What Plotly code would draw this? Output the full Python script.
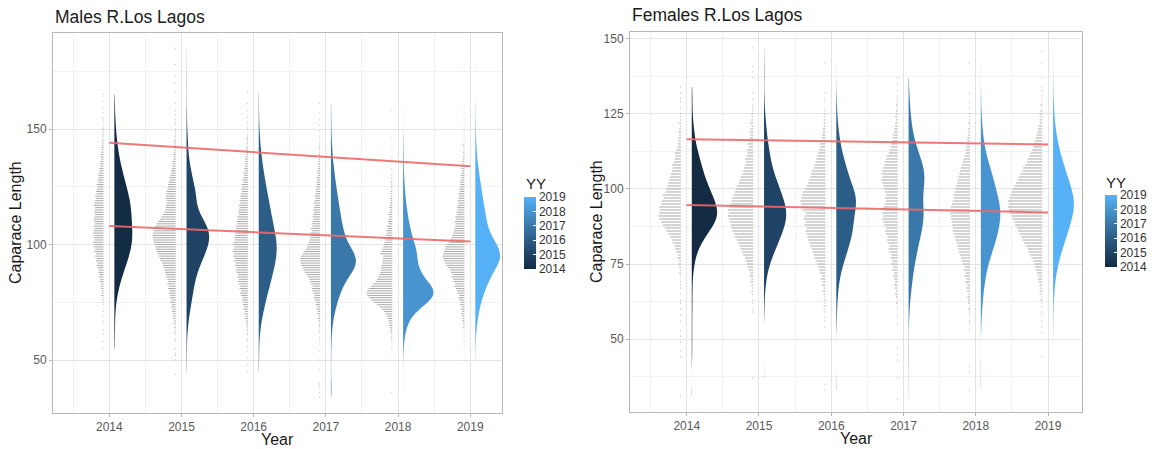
import numpy as np
import plotly.graph_objects as go
from plotly.colors import sample_colorscale

years = [2014, 2015, 2016, 2017, 2018, 2019]

# Carapace length frequencies (individuals per 1 mm class).
# Each list starts at the length given in the matching *_start list.
males_start = [55, 44, 45, 34, 36, 50]
males_2014 = [1, 0, 0, 1, 0, 0, 1, 0, 1, 0,
              0, 1, 1, 0, 1, 0, 1, 1, 0, 1,
              1, 2, 1, 3, 2, 2, 3, 4, 3, 5,
              4, 6, 5, 7, 6, 8, 9, 8, 10, 9,
              11, 10, 12, 11, 13, 12, 14, 12, 13, 12,
              14, 13, 12, 13, 11, 12, 13, 12, 11, 12,
              12, 11, 13, 12, 11, 10, 11, 9, 10, 9,
              8, 9, 7, 8, 6, 7, 6, 5, 6, 4,
              5, 4, 3, 4, 3, 3, 2, 3, 2, 2,
              2, 1, 2, 1, 1, 2, 1, 0, 1, 1,
              1, 0, 1, 0, 1, 0, 0, 1, 0, 0, 1]
males_2015 = [1, 0, 0, 0, 0, 0, 1, 0, 1, 1,
              0, 1, 0, 0, 1, 1, 0, 1, 2, 1,
              2, 1, 3, 2, 3, 4, 3, 5, 4, 6,
              5, 7, 6, 8, 7, 9, 8, 10, 9, 11,
              10, 11, 12, 13, 14, 15, 16, 17, 18, 20,
              21, 22, 24, 25, 26, 27, 28, 29, 30, 30,
              31, 30, 29, 28, 27, 25, 23, 21, 19, 17,
              15, 14, 13, 13, 12, 12, 13, 13, 12, 12,
              11, 10, 10, 9, 8, 8, 7, 6, 6, 5,
              5, 4, 4, 3, 3, 3, 2, 2, 2, 2,
              2, 2, 1, 2, 1, 1, 1, 0, 1, 1,
              1, 0, 1, 0, 1, 0, 0, 1, 0, 0,
              0, 0, 1, 0, 0, 0, 1, 0, 0, 1,
              0, 0, 0, 0, 1, 0, 0, 0, 0, 0, 0, 1]
males_2016 = [1, 0, 0, 1, 0, 0, 1, 0, 0, 1,
              0, 1, 0, 1, 1, 0, 1, 1, 2, 1,
              2, 3, 2, 4, 3, 5, 4, 6, 5, 7,
              6, 8, 7, 9, 10, 9, 11, 10, 12, 13,
              12, 14, 13, 15, 16, 15, 17, 16, 18, 17,
              19, 18, 20, 19, 18, 20, 19, 17, 18, 17,
              16, 17, 15, 16, 14, 15, 13, 14, 12, 13,
              12, 11, 12, 10, 11, 9, 10, 9, 8, 9,
              7, 8, 6, 7, 6, 5, 6, 4, 5, 4,
              4, 3, 4, 3, 2, 3, 2, 2, 1, 2,
              1, 2, 1, 1, 0, 1, 1, 0, 1, 0,
              1, 0, 0, 1, 0, 0, 1, 0, 0, 0, 0, 1]
males_2017 = [1, 0, 1, 0, 1, 1, 1, 0, 0, 0,
              0, 0, 1, 0, 0, 0, 1, 0, 0, 0,
              1, 0, 0, 1, 0, 1, 1, 0, 1, 1,
              1, 2, 1, 2, 3, 2, 4, 3, 5, 4,
              6, 5, 7, 8, 7, 9, 10, 11, 10, 12,
              13, 14, 16, 18, 20, 22, 23, 25, 26, 26,
              26, 25, 23, 21, 19, 17, 16, 15, 14, 13,
              12, 13, 11, 12, 10, 11, 10, 9, 10, 9,
              8, 9, 8, 7, 8, 7, 6, 7, 6, 5,
              6, 5, 4, 5, 4, 4, 3, 4, 3, 3,
              2, 3, 2, 2, 1, 2, 1, 1, 2, 1,
              1, 0, 1, 1, 0, 1, 0, 0, 1, 0,
              1, 0, 0, 1, 0, 0, 0, 1]
males_2018 = [1, 0, 0, 0, 0, 0, 0, 0, 0, 0,
              0, 0, 0, 0, 1, 0, 0, 0, 0, 1,
              1, 0, 1, 1, 2, 1, 2, 3, 3, 4,
              4, 5, 6, 7, 9, 11, 14, 17, 20, 24,
              28, 31, 33, 34, 33, 31, 28, 25, 22, 20,
              18, 17, 16, 15, 15, 14, 13, 13, 12, 12,
              16, 14, 13, 12, 11, 10, 9, 10, 8, 7,
              8, 6, 7, 5, 6, 5, 4, 5, 4, 3,
              4, 3, 3, 2, 3, 2, 2, 2, 1, 2,
              1, 2, 1, 1, 1, 0, 1, 1, 0, 1,
              0, 1, 1, 0, 0, 1, 0, 1, 0, 0,
              1, 0, 0, 0, 0, 0, 0, 0, 0, 0, 0, 0, 1]
males_2019 = [1, 0, 0, 0, 0, 0, 1, 0, 1, 0,
              1, 1, 0, 1, 2, 1, 2, 3, 2, 3,
              4, 3, 5, 4, 6, 5, 7, 8, 7, 9,
              10, 11, 13, 12, 14, 15, 17, 16, 18, 19,
              22, 24, 26, 27, 28, 29, 28, 27, 26, 25,
              23, 21, 19, 17, 16, 15, 14, 13, 12, 12,
              13, 11, 12, 10, 11, 9, 10, 9, 8, 9,
              8, 7, 8, 6, 7, 6, 5, 6, 5, 4,
              5, 4, 3, 4, 3, 2, 3, 2, 2, 1,
              2, 1, 1, 2, 1, 0, 1, 1, 0, 1,
              0, 1, 0, 0, 1, 0, 0, 1, 0, 0,
              1, 0, 0, 0, 0, 0, 0, 0, 0, 0,
              0, 0, 0, 0, 0, 0, 0, 0, 1]

females_start = [31, 37, 33, 30, 33, 44]
females_2014 = [1, 0, 0, 0, 0, 0, 0, 0, 0, 0,
                0, 0, 0, 1, 0, 1, 0, 0, 1, 0,
                1, 0, 1, 0, 0, 1, 0, 1, 0, 1,
                0, 1, 1, 0, 1, 0, 1, 1, 1, 0,
                1, 2, 1, 2, 3, 2, 4, 3, 5, 6,
                7, 9, 10, 12, 14, 16, 18, 20, 22, 24,
                25, 24, 23, 24, 22, 21, 19, 20, 17, 16,
                15, 14, 13, 12, 11, 10, 9, 10, 8, 7,
                6, 7, 5, 4, 4, 3, 3, 2, 3, 2,
                1, 2, 1, 1, 1, 0, 1, 0, 1, 1,
                0, 1, 0, 1]
females_2015 = [1, 0, 0, 0, 0, 0, 0, 0, 0, 0,
                0, 0, 0, 0, 0, 0, 0, 0, 0, 0,
                0, 0, 1, 1, 0, 1, 1, 0, 1, 2,
                1, 2, 3, 2, 4, 3, 5, 6, 7, 8,
                9, 11, 12, 14, 15, 17, 18, 20, 21, 23,
                24, 25, 26, 27, 28, 27, 28, 26, 25, 24,
                23, 22, 20, 19, 18, 16, 15, 14, 12, 11,
                10, 9, 8, 9, 7, 6, 7, 5, 6, 4,
                4, 3, 4, 3, 2, 3, 2, 1, 2, 1,
                1, 1, 0, 1, 0, 1, 0, 0, 0, 0,
                1, 0, 1, 0, 1, 0, 0, 0, 0, 0, 1]
females_2016 = [1, 0, 1, 0, 0, 0, 0, 0, 0, 0,
                0, 0, 0, 0, 0, 0, 0, 0, 0, 0,
                0, 1, 0, 1, 1, 0, 1, 1, 2, 1,
                2, 1, 2, 3, 2, 4, 3, 5, 4, 6,
                7, 8, 9, 10, 12, 13, 14, 15, 17, 18,
                19, 20, 21, 22, 21, 23, 22, 24, 23, 22,
                25, 26, 27, 28, 27, 26, 25, 23, 21, 19,
                18, 17, 16, 15, 13, 12, 11, 10, 9, 8,
                7, 6, 6, 5, 4, 4, 3, 3, 2, 2,
                2, 1, 2, 1, 1, 0, 1, 1, 0, 1,
                0, 0, 0, 0, 0, 0, 0, 0, 0, 1]
females_2017 = [1, 0, 0, 0, 0, 0, 0, 1, 0, 0,
                0, 0, 0, 1, 0, 1, 0, 1, 0, 0,
                0, 0, 0, 0, 0, 1, 0, 1, 1, 0,
                1, 1, 2, 1, 2, 3, 2, 3, 4, 3,
                4, 5, 4, 6, 5, 7, 6, 8, 7, 9,
                10, 9, 11, 12, 11, 13, 14, 13, 15, 16,
                17, 16, 17, 15, 16, 14, 13, 14, 13, 14,
                15, 16, 17, 18, 17, 18, 17, 16, 15, 14,
                13, 12, 10, 9, 8, 7, 6, 5, 5, 4,
                4, 3, 3, 2, 3, 2, 2, 1, 2, 1,
                1, 1, 0, 1, 0, 1, 0, 1]
females_2018 = [1, 0, 0, 0, 0, 0, 1, 0, 1, 0,
                0, 0, 0, 0, 0, 0, 0, 0, 0, 0,
                1, 0, 1, 1, 0, 1, 1, 2, 1, 2,
                2, 3, 2, 3, 4, 3, 5, 4, 6, 5,
                7, 6, 8, 9, 10, 11, 12, 13, 14, 15,
                16, 17, 18, 19, 19, 20, 20, 21, 21, 22,
                21, 21, 20, 19, 18, 18, 17, 16, 15, 14,
                14, 13, 12, 11, 10, 9, 8, 7, 6, 5,
                5, 4, 4, 3, 3, 2, 2, 2, 1, 2,
                1, 1, 1, 0, 1, 0, 1, 0, 0, 1,
                0, 0, 0, 0, 0, 0, 0, 0, 0, 1]
females_2019 = [1, 0, 0, 0, 0, 0, 0, 0, 1, 0,
                1, 0, 1, 0, 1, 1, 0, 1, 1, 2,
                1, 2, 3, 2, 3, 4, 5, 4, 6, 7,
                8, 9, 10, 12, 13, 15, 16, 18, 20, 22,
                23, 25, 27, 28, 30, 31, 33, 34, 36, 37,
                38, 37, 38, 36, 35, 34, 33, 31, 29, 27,
                26, 24, 22, 21, 19, 17, 16, 14, 13, 11,
                10, 9, 8, 7, 6, 5, 5, 4, 3, 3,
                2, 3, 2, 1, 2, 1, 1, 1, 0, 1,
                1, 0, 0, 1, 0, 0, 0, 0, 1, 0, 0, 0, 1]

# Trend lines (carapace length at first and last year)
trend_years = [2014, 2019]
males_upper = [144.1, 133.9]
males_lower = [108.1, 101.3]
females_upper = [116.6, 114.8]
females_lower = [94.7, 92.2]

# ggplot-like continuous blue scale
yy_scale = [[0.0, "#132B43"], [0.25, "#22496C"], [0.5, "#336A98"],
            [0.75, "#448DC6"], [1.0, "#56B1F7"]]

W, H = 1154, 449
FONT = "Liberation Sans, Arial, sans-serif"
GRID_MAJOR = "#E4E4E4"
GRID_MINOR = "#F1F1F1"
BORDER = "#B8B8B8"
TICKFONT = dict(family=FONT, size=12, color="#595959")
DOT_GREY = "#AAAAAA"
RED = "rgba(238,104,104,0.9)"

VIOLIN_NUDGE = 0.07
DOT_NUDGE = -0.08


def px_x(p):
    return p / W


def px_y(p):
    return 1 - p / H


def bw_nrd0(x):
    sd = np.std(x, ddof=1)
    q75, q25 = np.percentile(x, [75, 25])
    lo = min(sd, (q75 - q25) / 1.34)
    return 0.9 * lo * len(x) ** (-0.2)


def kde_peak(x, bw):
    grid = np.linspace(x.min(), x.max(), 512)
    z = (grid[:, None] - x[None, :]) / bw
    dens = np.exp(-0.5 * z ** 2).sum(axis=1) / (len(x) * bw * np.sqrt(2 * np.pi))
    return dens.max()


fig = go.Figure()


def add_panel(starts, series, upper, lower, xa, ya, half_max, dot_step):
    prepared = []
    for yr, start, counts in zip(years, starts, series):
        counts = np.asarray(counts)
        lengths = np.arange(start, start + len(counts))
        samples = np.repeat(lengths, counts).astype(float)
        bw = bw_nrd0(samples)
        prepared.append((yr, lengths, counts, samples, bw, kde_peak(samples, bw)))
    top_peak = max(p[-1] for p in prepared)

    for yr, lengths, counts, samples, bw, peak in prepared:
        color = sample_colorscale(yy_scale, [(yr - years[0]) / (years[-1] - years[0])])[0]

        # stacked individuals, growing leftwards from the year position
        xs, ys = [], []
        x0 = yr + DOT_NUDGE
        for L, c in zip(lengths, counts):
            if c > 0:
                xs += [x0, x0 - c * dot_step, None]
                ys += [L, L, None]
        fig.add_trace(go.Scatter(x=xs, y=ys, mode="lines", xaxis=xa, yaxis=ya,
                                 line=dict(color=DOT_GREY, width=1),
                                 hoverinfo="skip", showlegend=False))

        # half violin (equal-area scaling across years)
        fig.add_trace(go.Violin(y=samples, x0=yr + VIOLIN_NUDGE, name=str(yr),
                                xaxis=xa, yaxis=ya, side="positive",
                                points=False, spanmode="hard", bandwidth=bw,
                                scalemode="width",
                                width=2 * half_max * peak / top_peak,
                                fillcolor=color,
                                line=dict(color=color, width=0),
                                hoverinfo="skip", showlegend=False))

    for vals in (upper, lower):
        fig.add_trace(go.Scatter(x=trend_years, y=vals, mode="lines",
                                 xaxis=xa, yaxis=ya,
                                 line=dict(color=RED, width=2),
                                 hoverinfo="skip", showlegend=False))


add_panel(males_start, [males_2014, males_2015, males_2016, males_2017, males_2018, males_2019],
          males_upper, males_lower, "x", "y", 0.42, 0.0105)
add_panel(females_start, [females_2014, females_2015, females_2016, females_2017, females_2018, females_2019],
          females_upper, females_lower, "x2", "y2", 0.35, 0.0125)


# colour bars for YY
def add_colorbar(xa, ya, left_px, mid_px):
    fig.add_trace(go.Scatter(
        x=[None, None], y=[None, None], xaxis=xa, yaxis=ya, mode="markers",
        showlegend=False, hoverinfo="skip",
        marker=dict(color=[years[0], years[-1]], cmin=years[0], cmax=years[-1],
                    colorscale=yy_scale, showscale=True,
                    colorbar=dict(x=px_x(left_px), xanchor="left", xpad=0,
                                  y=px_y(mid_px), yanchor="middle", ypad=0,
                                  len=72, lenmode="pixels", thickness=12,
                                  outlinewidth=0, ticks="inside", ticklen=3,
                                  tickcolor="white", tickvals=years,
                                  ticktext=[str(y) for y in years],
                                  tickfont=dict(family=FONT, size=12, color="#333333")))))


add_colorbar("x", "y", 524, 233)
add_colorbar("x2", "y2", 1105, 231)


def axis_x(domain, rng, anchor):
    return dict(domain=domain, range=rng, anchor=anchor, tickmode="array",
                tickvals=years, ticktext=[str(y) for y in years], showgrid=True,
                gridcolor=GRID_MAJOR, gridwidth=1,
                minor=dict(tickmode="linear", tick0=2013.5, dtick=1, showgrid=True,
                           gridcolor=GRID_MINOR, gridwidth=1),
                showline=True, mirror=True, linecolor=BORDER, linewidth=1,
                ticks="outside", ticklen=3, tickcolor=BORDER,
                tickfont=TICKFONT, zeroline=False, automargin=False, fixedrange=True)


def axis_y(domain, rng, dtick, anchor):
    return dict(domain=domain, range=rng, anchor=anchor, tick0=0, dtick=dtick,
                showgrid=True, gridcolor=GRID_MAJOR, gridwidth=1,
                minor=dict(tick0=dtick / 2, dtick=dtick, showgrid=True,
                           gridcolor=GRID_MINOR, gridwidth=1),
                showline=True, mirror=True, linecolor=BORDER, linewidth=1,
                ticks="outside", ticklen=3, tickcolor=BORDER,
                tickfont=TICKFONT, zeroline=False, automargin=False, fixedrange=True)


fig.update_layout(
    width=W, height=H, margin=dict(l=0, r=0, t=0, b=0),
    paper_bgcolor="white", plot_bgcolor="white",
    violinmode="overlay", showlegend=False,
    xaxis=axis_x([px_x(53), px_x(502)], [2013.22, 2019.44], "y"),
    yaxis=axis_y([px_y(413), px_y(33)], [27.1, 191.6], 50, "x"),
    xaxis2=axis_x([px_x(630), px_x(1082)], [2013.215, 2019.47], "y2"),
    yaxis2=axis_y([px_y(412), px_y(32)], [25.7, 152.3], 25, "x2"),
)

ann = []


def text(s, x, y, size, color="#1A1A1A", angle=0, xanchor="center"):
    ann.append(dict(text=s, x=px_x(x), y=px_y(y), xref="paper", yref="paper",
                    showarrow=False, xanchor=xanchor, yanchor="middle",
                    textangle=angle, font=dict(family=FONT, size=size, color=color)))


text("Males R.Los Lagos", 53, 16.5, 17.5, xanchor="left")
text("Females R.Los Lagos", 630, 15, 17.5, xanchor="left")
text("Caparace Length", 15, 223, 16, angle=-90)
text("Caparace Length", 596, 222, 16, angle=-90)
text("Year", 277, 439, 16)
text("Year", 856, 438, 16)
text("YY", 524, 183, 15, xanchor="left")
text("YY", 1104, 182, 15, xanchor="left")
fig.update_layout(annotations=ann)

fig.write_html("out.html")
